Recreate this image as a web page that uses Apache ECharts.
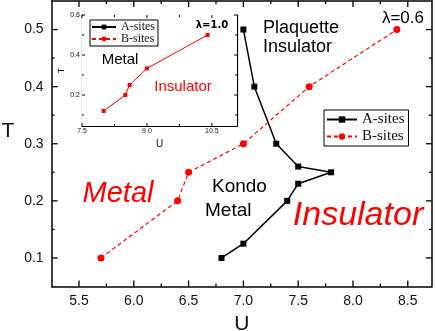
<!DOCTYPE html>
<html>
<head>
<meta charset="utf-8">
<script src="https://cdn.jsdelivr.net/npm/echarts@6/dist/echarts.min.js"></script>
<style>html,body{margin:0;padding:0;background:#fff}#c{width:436px;height:331px}</style>
</head>
<body>
<div id="c"></div>
<script>
// Main panel (lambda = 0.6)
const aSitesU = [7.0, 7.1, 7.3, 7.5, 7.8, 7.5, 7.4, 7.0, 6.8];
const aSitesT = [0.5, 0.4, 0.3, 0.26, 0.25, 0.23, 0.2, 0.125, 0.1];
const bSitesU = [5.7, 6.4, 6.5, 7.0, 7.6, 8.4];
const bSitesT = [0.1, 0.2, 0.25, 0.3, 0.4, 0.5];
// Inset (lambda = 1.0)
const insetU = [8.0, 8.5, 8.6, 9.0, 10.4];
const insetT = [0.12, 0.2, 0.25, 0.333, 0.5];
// Tick values (major ticks carry labels)
const mainXMajor = [5.5, 6.0, 6.5, 7.0, 7.5, 8.0, 8.5];
const mainXMinor = [5.75, 6.25, 6.75, 7.25, 7.75, 8.25];
const mainYMajor = [0.1, 0.2, 0.3, 0.4, 0.5];
const mainYMinor = [0.15, 0.25, 0.35, 0.45];
const insetXMajor = [7.5, 9.0, 10.5];
const insetXMinor = [8.25, 9.75];
const insetYMajor = [0.2, 0.4, 0.6];
const insetYMinor = [0.1, 0.3, 0.5];

const zip = (xs, ys) => xs.map((x, i) => [x, ys[i]]);
const SANS = '"Liberation Sans", Arial, sans-serif';
const SERIF = '"Liberation Serif", "Times New Roman", serif';
const fmt1 = v => Number(v).toFixed(1);

const MAIN_X = [5.25, 8.72], MAIN_Y = [0.05, 0.55];
const INSET_X = [7.5, 11.08], INSET_Y = [0.045, 0.6];

function axisPair(kind, gridIndex, range, labels, o) {
  const posA = kind === 'x' ? 'bottom' : 'left';
  const posB = kind === 'x' ? 'top' : 'right';
  const common = {
    type: 'value', gridIndex, min: range[0], max: range[1],
    splitLine: { show: false },
    axisLine: { show: true, onZero: false, lineStyle: { color: '#000', width: o.lineW } },
    axisTick: { show: false }
  };
  const a = Object.assign({}, common, {
    position: posA,
    axisLabel: { show: true, customValues: labels, formatter: fmt1, color: '#111', fontFamily: SANS, fontSize: o.fontSize, margin: o.margin },
    name: o.name, nameLocation: 'middle', nameGap: o.nameGap, nameRotate: o.nameRotate,
    nameTextStyle: { fontFamily: SANS, fontSize: o.nameSize, color: '#111' }
  });
  const b = Object.assign({}, common, { position: posB, axisLabel: { show: false } });
  return [a, b];
}

// Tick marks drawn through the axes' own scale (api.coord), inside, on all four sides
function tickSeries(axisIndex, xr, yr, xMaj, xMin, yMaj, yMin, majLen, minLen, w) {
  const data = [].concat(
    xMaj.map(v => [v, 0]), xMin.map(v => [v, 1]),
    yMaj.map(v => [v, 2]), yMin.map(v => [v, 3])
  );
  return {
    type: 'custom', xAxisIndex: axisIndex, yAxisIndex: axisIndex, z: 8, clip: false, silent: true,
    data,
    renderItem(params, api) {
      const v = api.value(0), kind = api.value(1);
      const len = (kind === 0 || kind === 2) ? majLen : minLen;
      let segs;
      if (kind < 2) {
        const b = api.coord([v, yr[0]]), t = api.coord([v, yr[1]]);
        segs = [[b[0], b[1], b[0], b[1] - len], [t[0], t[1], t[0], t[1] + len]];
      } else {
        const l = api.coord([xr[0], v]), r = api.coord([xr[1], v]);
        segs = [[l[0], l[1], l[0] + len, l[1]], [r[0], r[1], r[0] - len, r[1]]];
      }
      return {
        type: 'group',
        children: segs.map(s => ({
          type: 'line', shape: { x1: s[0], y1: s[1], x2: s[2], y2: s[3] },
          style: { stroke: '#000', lineWidth: w }
        }))
      };
    }
  };
}

const xAxes = [].concat(
  axisPair('x', 0, MAIN_X, mainXMajor, { lineW: 1.5, fontSize: 14, margin: 8, name: 'U', nameGap: 27, nameSize: 21, nameRotate: 0 }),
  axisPair('x', 1, INSET_X, insetXMajor, { lineW: 1.2, fontSize: 7, margin: 2, name: 'U', nameGap: 13, nameSize: 10, nameRotate: 0 })
);
const yAxes = [].concat(
  axisPair('y', 0, MAIN_Y, mainYMajor, { lineW: 1.5, fontSize: 14, margin: 8, name: '', nameGap: 38, nameSize: 21, nameRotate: 0 }),
  axisPair('y', 1, INSET_Y, insetYMajor, { lineW: 1.2, fontSize: 7, margin: 2, name: 'T', nameGap: 14, nameSize: 9, nameRotate: 90 })
);

const option = {
  animation: false,
  backgroundColor: '#fff',
  grid: [
    { left: 51.6, top: 1, width: 380.3, height: 285.5, show: false, containLabel: false, outerBoundsMode: 'none' },
    { left: 82, top: 15, width: 155, height: 111, show: true, backgroundColor: '#fff', borderWidth: 0, z: 5, containLabel: false, outerBoundsMode: 'none' }
  ],
  xAxis: xAxes,
  yAxis: yAxes,
  legend: [
    {
      data: ['A-sites', 'B-sites'], orient: 'vertical', left: 324, top: 110,
      borderColor: '#000', borderWidth: 1, borderRadius: 0, padding: [2, 4, 2, 2], itemGap: 2,
      itemWidth: 30, itemHeight: 8,
      textStyle: { fontFamily: SERIF, fontSize: 15, color: '#111', lineHeight: 14 }
    },
    {
      data: ['A-sites', 'B-sites'], orient: 'vertical', left: 90, top: 20, z: 10,
      borderColor: '#000', borderWidth: 1, borderRadius: 0, padding: [1, 3, 1, 1], itemGap: 0,
      itemWidth: 24, itemHeight: 6,
      textStyle: { fontFamily: SERIF, fontSize: 12, color: '#111', lineHeight: 11 }
    }
  ],
  series: [
    {
      name: 'A-sites', type: 'line', xAxisIndex: 0, yAxisIndex: 0,
      data: zip(aSitesU, aSitesT), symbol: 'rect', symbolSize: 6,
      itemStyle: { color: '#000' }, lineStyle: { color: '#000', width: 1.5 }
    },
    {
      name: 'B-sites', type: 'line', xAxisIndex: 0, yAxisIndex: 0,
      data: zip(bSitesU, bSitesT), symbol: 'circle', symbolSize: 7,
      itemStyle: { color: '#ff0000' }, lineStyle: { color: '#ff0000', width: 1.2, type: [4, 3] }
    },
    {
      name: 'B-sites (λ=1.0)', type: 'line', xAxisIndex: 2, yAxisIndex: 2, z: 6,
      data: zip(insetU, insetT), symbol: 'rect', symbolSize: 4,
      itemStyle: { color: '#ff0000' }, lineStyle: { color: '#ff0000', width: 1 }
    },
    tickSeries(0, MAIN_X, MAIN_Y, mainXMajor, mainXMinor, mainYMajor, mainYMinor, 6, 3, 1.3),
    tickSeries(2, INSET_X, INSET_Y, insetXMajor, insetXMinor, insetYMajor, insetYMinor, 3, 2, 1)
  ],
  graphic: [
    { type: 'text', x: 8, y: 131, z: 20, style: { text: 'T', font: '21px ' + SANS, fill: '#111', align: 'center', verticalAlign: 'middle' } },
    { type: 'text', x: 263, y: 38, z: 20, style: { text: 'Plaquette\nInsulator', font: '18px ' + SANS, fill: '#000', align: 'left', verticalAlign: 'middle', lineHeight: 19 } },
    { type: 'text', x: 424, y: 18, z: 20, style: { text: 'λ=0.6', font: '17px ' + SANS, fill: '#000', align: 'right', verticalAlign: 'middle' } },
    { type: 'text', x: 212, y: 187, z: 20, style: { text: 'Kondo', font: '19px ' + SANS, fill: '#000', align: 'left', verticalAlign: 'middle' } },
    { type: 'text', x: 205, y: 211, z: 20, style: { text: 'Metal', font: '19px ' + SANS, fill: '#000', align: 'left', verticalAlign: 'middle' } },
    { type: 'text', x: 118, y: 194, z: 20, style: { text: 'Metal', font: 'italic 29px ' + SANS, fill: '#ff0000', align: 'center', verticalAlign: 'middle' } },
    { type: 'text', x: 358, y: 216, z: 20, style: { text: 'Insulator', font: 'italic 34px ' + SANS, fill: '#ff0000', align: 'center', verticalAlign: 'middle' } },
    { type: 'text', x: 212, y: 25, z: 20, style: { text: 'λ=1.0', font: 'bold 10px "DejaVu Sans", sans-serif', fill: '#000', align: 'center', verticalAlign: 'middle' } },
    { type: 'text', x: 120, y: 60, z: 20, style: { text: 'Metal', font: '15px ' + SANS, fill: '#000', align: 'center', verticalAlign: 'middle' } },
    { type: 'text', x: 183, y: 87, z: 20, style: { text: 'Insulator', font: '15px ' + SANS, fill: '#ff0000', align: 'center', verticalAlign: 'middle' } }
  ]
};

const chart = echarts.init(document.getElementById('c'), null, { renderer: 'canvas' });
chart.setOption(option);
</script>
</body>
</html>
